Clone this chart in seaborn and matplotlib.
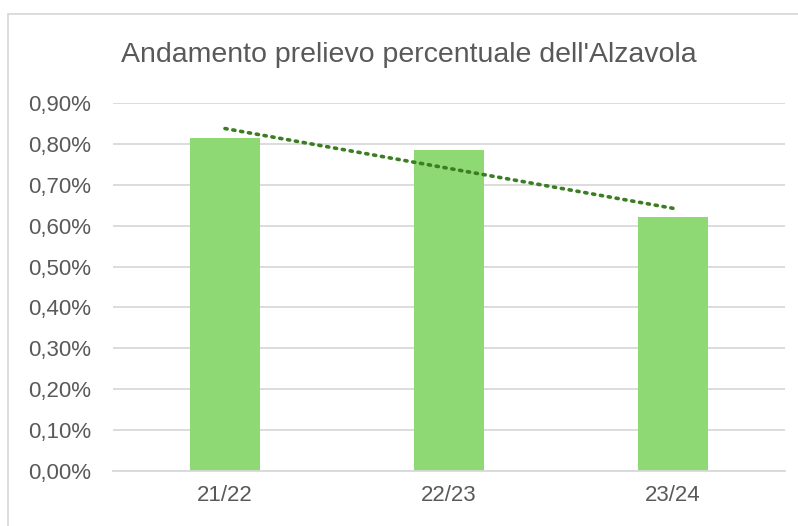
import matplotlib
matplotlib.use("Agg")
import matplotlib.pyplot as plt
import numpy as np
import pandas as pd
import seaborn as sns
from matplotlib.ticker import FuncFormatter, MultipleLocator

seasons = ["21/22", "22/23", "23/24"]
prelievo = [0.815, 0.785, 0.62]  # percent
title = "Andamento prelievo percentuale dell'Alzavola"

sns.set_style("white")
plt.rcParams["font.family"] = ["Liberation Sans", "DejaVu Sans"]

df = pd.DataFrame({"stagione": seasons, "prelievo": prelievo})

fig = plt.figure(figsize=(7.98, 5.26), dpi=100)
ax = fig.add_axes([0.1416, 0.1046, 0.842, 0.6996])

sns.barplot(data=df, x="stagione", y="prelievo", color="#8ED973",
            saturation=1, width=0.31, linewidth=0, ax=ax, zorder=2)

# linear trend line
xs = np.arange(len(seasons))
k, b = np.polyfit(xs, prelievo, 1)
ax.plot(xs, k * xs + b, linestyle=(0, (0.6, 1.6)), color="#3A7D22",
        lw=2.6, dash_capstyle="round", zorder=3)

ax.set_ylim(0, 0.9)
ax.set_xlim(-0.5, len(seasons) - 0.5)
ax.yaxis.set_major_locator(MultipleLocator(0.1))
ax.yaxis.set_major_formatter(FuncFormatter(lambda v, _: f"{v:.2f}%".replace(".", ",")))
ax.yaxis.grid(True, color="#D9D9D9", lw=1.3, zorder=0)
ax.set_axisbelow(True)
for s in ax.spines.values():
    s.set_visible(False)
ax.spines["bottom"].set_visible(True)
ax.spines["bottom"].set_color("#D9D9D9")
ax.spines["bottom"].set_linewidth(1.3)
ax.tick_params(axis="both", length=0, labelsize=16, colors="#595959")
ax.tick_params(axis="y", pad=16)
ax.tick_params(axis="x", pad=10)
ax.set_xlabel("")
ax.set_ylabel("")

fig.text(0.512, 0.895, title, ha="center", va="center", fontsize=20.5, color="#595959")

# chart frame
fig.patches.append(plt.Rectangle((0.01, -0.01), 1.0, 0.984, transform=fig.transFigure,
                                 fill=False, edgecolor="#D9D9D9", lw=1.3))

fig.savefig("out.png", dpi=100)
